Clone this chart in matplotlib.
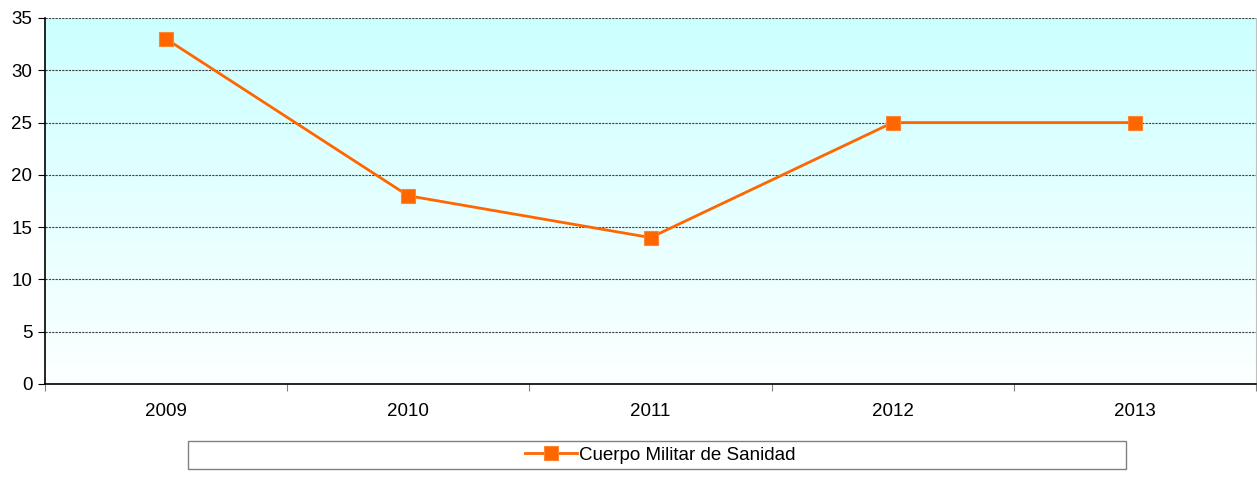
import matplotlib.pyplot as plt
import numpy as np
from matplotlib.patches import Rectangle

# data
years = ["2009", "2010", "2011", "2012", "2013"]
values = [33, 18, 14, 25, 25]
series_name = "Cuerpo Militar de Sanidad"

plt.rcParams['font.family'] = ['Liberation Sans', 'DejaVu Sans']

fig = plt.figure(figsize=(12.57, 4.79), dpi=100)
ax = fig.add_axes([45 / 1257, 1 - 384 / 479, 1211 / 1257, 366 / 479])

# gradient background: cyan at top fading to white at bottom
grad = np.linspace(0, 1, 256).reshape(-1, 1)
top = np.array([0.80, 1.0, 1.0])
bottom = np.array([0.99, 1.0, 1.0])
img = bottom + (top - bottom) * grad
img = img.reshape(256, 1, 3)
ax.imshow(img, extent=[0, 1, 0, 1], transform=ax.transAxes, origin='lower',
          aspect='auto', zorder=0)

x = np.arange(len(years))
ax.plot(x, values, color='#FF6600', linewidth=2, marker='s', markersize=10,
        markerfacecolor='#FF6600', markeredgecolor='#FF8533', markeredgewidth=0.8,
        label=series_name, zorder=3)

ax.set_xlim(-0.5, len(years) - 0.5)
ax.set_ylim(0, 35)
ax.set_yticks(range(0, 36, 5))

# category boundaries as major ticks, labels at centres
ax.set_xticks(np.arange(-0.5, len(years), 1.0))
ax.set_xticklabels([])
ax.set_xticks(x, minor=True)
ax.set_xticklabels(years, minor=True)
ax.tick_params(axis='x', which='minor', length=0, pad=14, labelsize=13.5)
ax.tick_params(axis='x', which='major', length=5, color='#808080')
ax.tick_params(axis='y', length=5, labelsize=13.5, pad=4)

ax.yaxis.grid(True, linestyle=(0, (2, 1)), color='#404040', linewidth=0.8)
ax.set_axisbelow(True)

ax.spines['top'].set_visible(False)
ax.spines['right'].set_color('#C0C0C0')
ax.spines['left'].set_color('black')
ax.spines['bottom'].set_color('black')
ax.spines['left'].set_linewidth(1.2)
ax.spines['bottom'].set_linewidth(1.2)

# legend box
fig.patches.append(Rectangle((188 / 1257, 1 - 469 / 479), 938 / 1257, 28 / 479,
                             transform=fig.transFigure, facecolor='white',
                             edgecolor='#808080', linewidth=1))
fig.legend(loc='center', bbox_to_anchor=(660 / 1257, 1 - 455 / 479),
           frameon=False, fontsize=13.5, handlelength=2.8, handletextpad=0.1,
           borderaxespad=0)

plt.savefig("out.png", dpi=100)
